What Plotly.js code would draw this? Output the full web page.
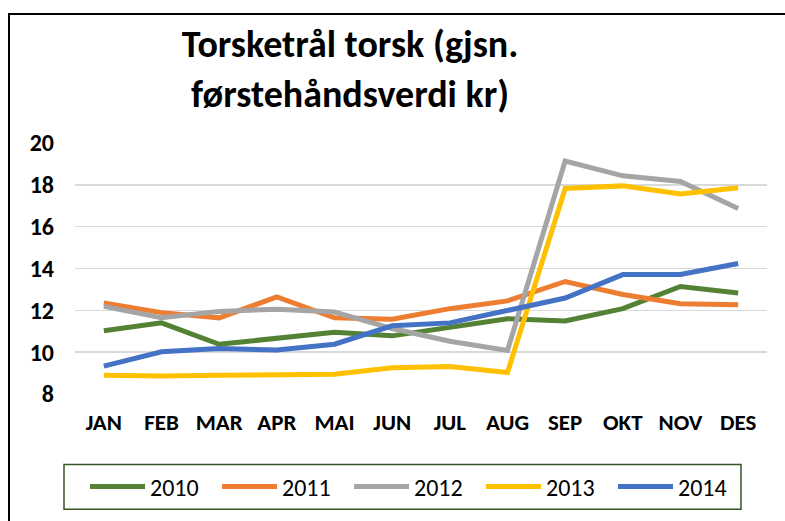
<!DOCTYPE html>
<html>
<head>
<meta charset="utf-8">
<script src="https://cdn.plot.ly/plotly-3.0.1.min.js"></script>
<style>
  html, body { margin: 0; padding: 0; background: #fff; }
  #wrap { position: relative; width: 785px; height: 521px; overflow: hidden; }
  #chart { position: absolute; left: 0; top: 0; width: 785px; height: 521px; }
  #frame { position: absolute; left: 8px; top: 13px; width: 900px; height: 600px;
           border-left: 2px solid #000; border-top: 2px solid #000; pointer-events: none; }
</style>
</head>
<body>
<div id="wrap">
  <div id="chart"></div>
  <div id="frame"></div>
</div>
<script>
const months = ["JAN", "FEB", "MAR", "APR", "MAI", "JUN", "JUL", "AUG", "SEP", "OKT", "NOV", "DES"];
const years = ["2010", "2011", "2012", "2013", "2014"];
const v2010 = [11.02, 11.40, 10.38, 10.65, 10.95, 10.78, 11.18, 11.60, 11.49, 12.08, 13.14, 12.83];
const v2011 = [12.35, 11.89, 11.64, 12.64, 11.64, 11.57, 12.08, 12.45, 13.38, 12.76, 12.32, 12.27];
const v2012 = [12.19, 11.65, 11.95, 12.05, 11.92, 11.13, 10.52, 10.08, 19.14, 18.43, 18.16, 16.87];
const v2013 = [8.90, 8.86, 8.90, 8.89, 8.94, 9.26, 9.32, 9.03, 17.83, 17.95, 17.56, 17.86];
const v2014 = [9.33, 10.02, 10.18, 10.10, 10.38, 11.26, 11.40, 11.97, 12.59, 13.71, 13.71, 14.24];
const yTicks = [8, 10, 12, 14, 16, 18, 20];
const titleText = "Torsketrål torsk (gjsn.<br>førstehåndsverdi kr)";

const series = [v2010, v2011, v2012, v2013, v2014];
const colors = ["#548235", "#ED7D31", "#A5A5A5", "#FFC000", "#4472C4"];
const FONT = "Carlito, 'Liberation Sans Narrow', 'DejaVu Sans Condensed', 'Open Sans', sans-serif";

const traces = series.map((vals, i) => ({
  type: "scatter",
  mode: "lines",
  name: years[i],
  x: months,
  y: vals,
  line: { color: colors[i], width: 5 },
  hoverinfo: "skip"
}));

const layout = {
  width: 785,
  height: 521,
  margin: { l: 75, r: 18, t: 143, b: 125 },
  paper_bgcolor: "#fff",
  plot_bgcolor: "#fff",
  font: { family: FONT, color: "#000" },
  title: {
    text: titleText,
    font: { family: FONT, size: 38, weight: "bold", color: "#000" },
    x: 0.446, xanchor: "center", xref: "container",
    y: 0.89, yref: "container"
  },
  xaxis: {
    type: "category",
    range: [-0.5, 11.5],
    showgrid: false,
    zeroline: false,
    showline: false,
    ticks: "",
    ticklabelstandoff: 12,
    tickfont: { family: FONT, size: 23, weight: "bold", color: "#000" },
    fixedrange: true
  },
  yaxis: {
    range: [8, 20],
    tickvals: yTicks,
    ticktext: yTicks.map(String),
    showgrid: true,
    gridcolor: "#d9d9d9",
    gridwidth: 1.5,
    zeroline: false,
    showline: false,
    ticks: "",
    ticklabelstandoff: 20,
    tickfont: { family: FONT, size: 24, weight: "bold", color: "#000" },
    fixedrange: true
  },
  shapes: [{
    type: "rect", xref: "paper", yref: "paper",
    x0: -0.0159, x1: 0.9624, y0: -0.2813, y1: -0.4596,
    line: { color: "#375623", width: 1.5 },
    fillcolor: "rgba(0,0,0,0)", layer: "below"
  }],
  showlegend: true,
  legend: {
    orientation: "h",
    x: 0.0145, xanchor: "left",
    y: -0.28, yanchor: "top",
    borderwidth: 0,
    bgcolor: "rgba(0,0,0,0)",
    font: { family: FONT, size: 24, color: "#000" },
    itemwidth: 55,
    entrywidth: 62,
    traceorder: "normal"
  }
};

Plotly.newPlot("chart", traces, layout, { displayModeBar: false, staticPlot: true });
</script>
</body>
</html>
